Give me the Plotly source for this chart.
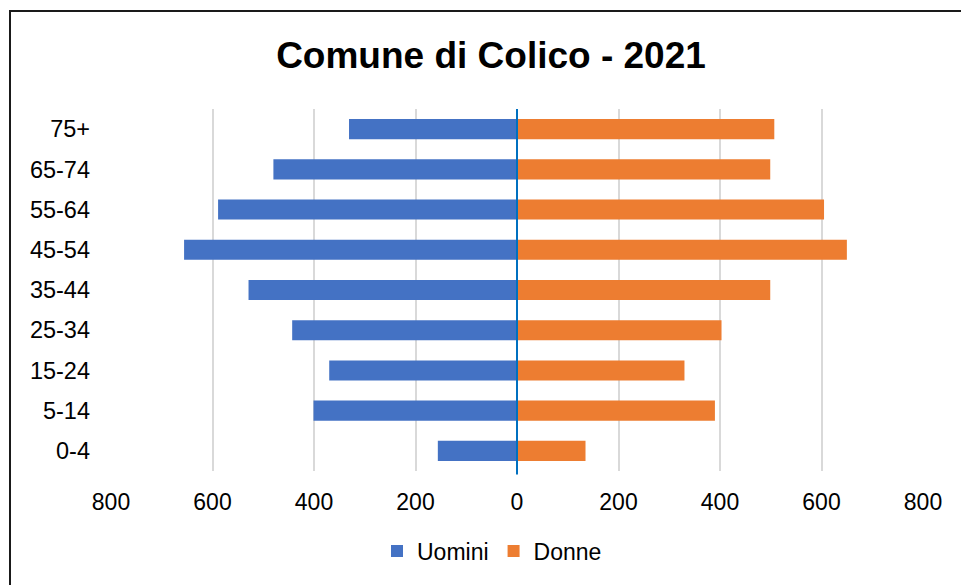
import plotly.graph_objects as go

categories = ["0-4", "5-14", "15-24", "25-34", "35-44", "45-54", "55-64", "65-74", "75+"]
uomini = [156, 401, 370, 443, 529, 656, 589, 480, 331]
donne = [135, 390, 330, 403, 499, 650, 605, 499, 507]
tick_vals = [-800, -600, -400, -200, 0, 200, 400, 600, 800]
tick_text = ["800", "600", "400", "200", "0", "200", "400", "600", "800"]

FONT = "Liberation Sans, Arial, sans-serif"

fig = go.Figure()
fig.add_trace(go.Bar(y=categories, x=[-v for v in uomini], orientation="h", name="Uomini",
                     marker=dict(color="#4472C4", line=dict(width=0))))
fig.add_trace(go.Bar(y=categories, x=donne, orientation="h", name="Donne",
                     marker=dict(color="#ED7D31", line=dict(width=0))))

W, H = 961, 585
L, R, T, B = 111, 38, 109, 114
pw, ph = W - L - R, H - T - B

fig.update_layout(
    width=W, height=H,
    margin=dict(l=L, r=R, t=T, b=B, pad=0),
    paper_bgcolor="white", plot_bgcolor="white",
    barmode="relative", bargap=0.5,
    font=dict(family=FONT, size=23, color="#000000"),
    title=dict(text="<b>Comune di Colico - 2021</b>", font=dict(family=FONT, size=37, color="#000000"),
               xref="container", x=491 / W, xanchor="center",
               yref="container", y=1 - 55 / H, yanchor="middle"),
    legend=dict(orientation="h", xref="container", x=492 / W, xanchor="center",
                yref="container", y=1 - 551 / H, yanchor="middle",
                font=dict(size=23), itemwidth=30, tracegroupgap=0, traceorder="normal"),
    xaxis=dict(range=[-800, 800], tickvals=tick_vals, ticktext=tick_text,
               showgrid=True, gridcolor="#d9d9d9", gridwidth=1.5,
               zeroline=False, showline=False, ticks="", ticklabelstandoff=15,
               tickfont=dict(size=23), fixedrange=True),
    yaxis=dict(categoryorder="array", categoryarray=categories,
               showgrid=False, zeroline=False, showline=False, ticks="",
               ticklabelstandoff=20, tickfont=dict(size=23.5), fixedrange=True),
    showlegend=True,
)

# zero line
fig.add_shape(type="line", xref="x", yref="paper", x0=0, x1=0, y0=-0.01, y1=1,
              line=dict(color="#0070C0", width=2), layer="above")
# chart-area border
fig.add_shape(type="rect", xref="paper", yref="paper",
              x0=(10 - L) / pw, x1=(975 - L) / pw,
              y0=(H - B - 600) / ph, y1=(H - B - 11) / ph,
              line=dict(color="#1a1a1a", width=2), fillcolor="rgba(0,0,0,0)", layer="above")

fig.write_html("out.html")
